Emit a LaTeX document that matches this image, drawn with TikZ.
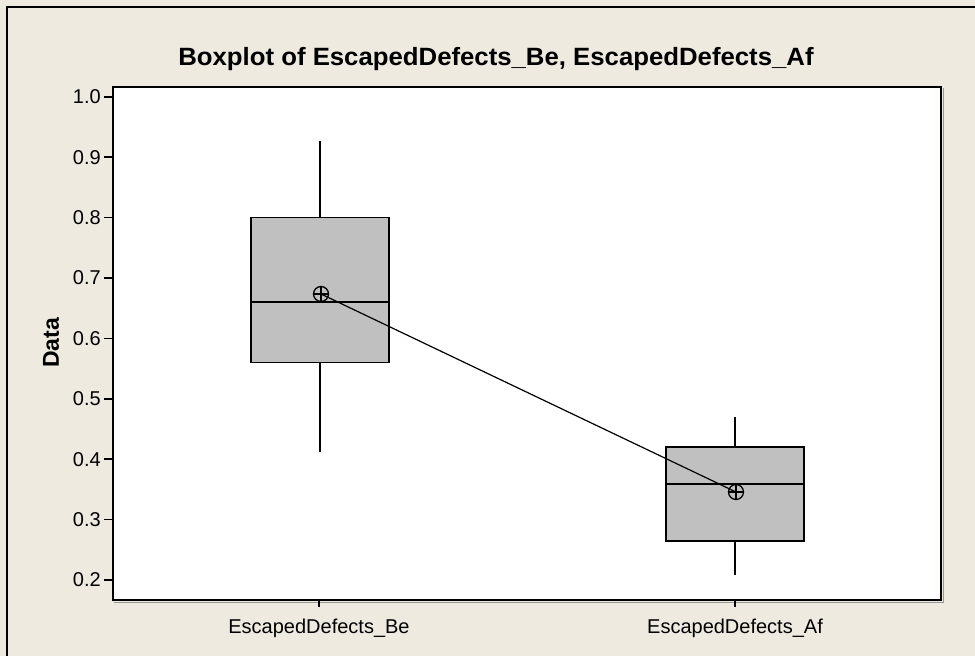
\documentclass[tikz,border=0pt]{standalone}
\usepackage{fontspec}
\setmainfont{Liberation Sans}
\definecolor{bg}{RGB}{238,234,224}
\definecolor{boxgray}{RGB}{192,192,192}
\definecolor{shadowgray}{RGB}{150,150,150}
\begin{document}
\begin{tikzpicture}[x=1pt,y=-1pt,
  boxnode/.style={draw=black,line width=1.6pt,fill=boxgray,rectangle,inner sep=0pt,minimum width=138pt},
  whisker/.style={line width=1.5pt},
  medianline/.style={line width=1.6pt},
  meanmark/.style={circle,draw=black,line width=1.3pt,minimum size=15pt,inner sep=0pt,
    path picture={\draw[line width=1.2pt] (path picture bounding box.north) -- (path picture bounding box.south)
      (path picture bounding box.west) -- (path picture bounding box.east);}},
  meanline/.style={line width=1.2pt},
  ticklabel/.style={font=\fontsize{20}{20}\selectfont,inner sep=0pt},
  tickmark/.style={line width=1.5pt},
 ]
\useasboundingbox (0,0) rectangle (975,656);
\fill[bg] (0,0) rectangle (975,656);
\draw[line width=2pt] (7,656) -- (7,7) -- (975,7);

% plot area
\fill[white] (113,87) rectangle (941,600);
\draw[shadowgray,line width=1pt] (943,88) -- (943,602) -- (114,602);
\draw[line width=1.5pt] (113,87) rectangle (941,600);

% title and axis label
\node[font=\bfseries\fontsize{25}{25}\selectfont,anchor=base,inner sep=0pt] (title) at (496,65)
  {\scalebox{1.03}[1]{Boxplot of EscapedDefects\_Be, EscapedDefects\_Af}};
\node[font=\bfseries\fontsize{23}{23}\selectfont,rotate=90,inner sep=0pt] (ylab) at (51,343) {Data};

% y ticks
\foreach \v/\y [count=\i] in {0.2/580,0.3/519.6,0.4/459.2,0.5/398.8,0.6/338.4,0.7/278,0.8/217.6,0.9/157.2,1.0/96.8}{
  \coordinate (yt\i) at (104,\y);
  \coordinate (ya\i) at (113,\y);
  \draw[tickmark] (yt\i) -- (ya\i);
  \node[ticklabel,anchor=east] (yl\i) at (101,\y) {\v};
}

% x ticks
\coordinate (xt1) at (319,600);
\coordinate (xb1) at (319,607);
\coordinate (xt2) at (735,600);
\coordinate (xb2) at (735,607);
\draw[tickmark] (xt1) -- (xb1);
\draw[tickmark] (xt2) -- (xb2);
\node[ticklabel,anchor=base] (xl1) at (319,633) {EscapedDefects\_Be};
\node[ticklabel,anchor=base] (xl2) at (735,633) {EscapedDefects\_Af};

% box 1
\coordinate (w1top) at (320,141);
\coordinate (w1bot) at (320,452);
\node[boxnode,minimum height=145pt] (b1) at (320,290.1) {};
\draw[whisker] (b1.north) -- (w1top);
\draw[whisker] (b1.south) -- (w1bot);
\draw[medianline] (251,302) -- (389,302);

% box 2
\coordinate (w2top) at (735,417);
\coordinate (w2bot) at (735,575);
\node[boxnode,minimum height=94pt] (b2) at (735,494) {};
\draw[whisker] (b2.north) -- (w2top);
\draw[whisker] (b2.south) -- (w2bot);
\draw[medianline] (666,484) -- (804,484);

% means
\node[meanmark] (m1) at (321,294) {};
\node[meanmark] (m2) at (736,492) {};
\draw[meanline] (m1.center) -- (m2.center);
\end{tikzpicture}
\end{document}
